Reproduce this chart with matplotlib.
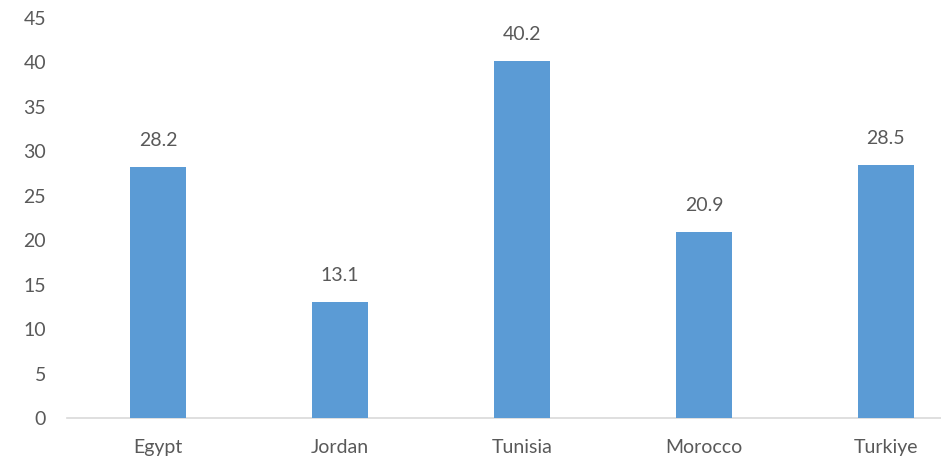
import matplotlib
matplotlib.use("Agg")
import matplotlib.pyplot as plt

countries = ["Egypt", "Jordan", "Tunisia", "Morocco", "Turkiye"]
values = [28.2, 13.1, 40.2, 20.9, 28.5]

BAR = "#5B9BD5"
TXT = "#595959"

plt.rcParams["font.family"] = ["Lato", "DejaVu Sans"]

fig = plt.figure(figsize=(9.41, 4.61), dpi=100)
ax = fig.add_axes([0.0712, 0.0933, 0.967, 0.868])

x = range(len(countries))
ax.bar(x, values, width=0.31, color=BAR, zorder=3)
for i, v in zip(x, values):
    ax.annotate(f"{v:.1f}", (i, v), xytext=(0, 18), textcoords="offset pixels",
                ha="center", va="bottom", fontsize=14, color=TXT)

ax.set_xlim(-0.5, len(countries) - 0.5)
ax.set_ylim(0, 45)
ax.set_yticks(range(0, 46, 5))
ax.set_xticks(list(x))
ax.set_xticklabels(countries)
ax.tick_params(axis="both", length=0, labelsize=14, labelcolor=TXT)
ax.tick_params(axis="x", pad=15)
ax.tick_params(axis="y", pad=15)
for s in ("top", "right", "left"):
    ax.spines[s].set_visible(False)
ax.spines["bottom"].set_color("#D9D9D9")
ax.spines["bottom"].set_linewidth(1.2)

fig.savefig("out.png", dpi=100)
